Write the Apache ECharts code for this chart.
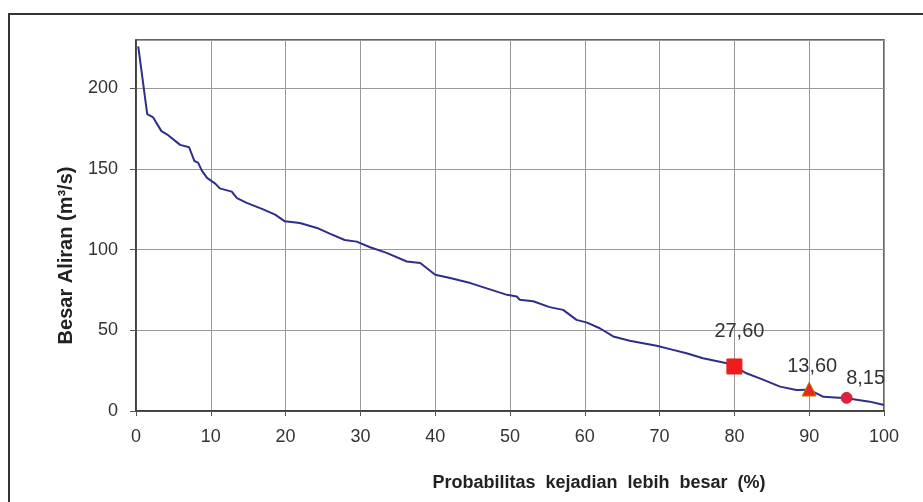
<!DOCTYPE html>
<html>
<head>
<meta charset="utf-8">
<script src="https://cdn.jsdelivr.net/npm/echarts@6/dist/echarts.min.js"></script>
<style>
html, body { margin: 0; padding: 0; background: #fff; }
#chartData { width: 923px; height: 502px; }
</style>
</head>
<body>
<div id="chartData"></div>
<script>
// kurva durasi aliran: probabilitas (%) dan debit (m3/s)
var probPct = [0.3, 1.5, 2.3, 3.4, 4.3, 5.9, 7.1, 7.8, 8.3, 8.8, 9.5, 10.6, 11.2, 12.8, 13.5, 14.8, 17, 18.6, 19.9, 21.9,
    24.2, 25.9, 27.9, 29.5, 31.3, 33.5, 36.2, 38, 40, 42, 44.7, 46.9, 49.6, 50.9, 51.3, 53.1, 55.3, 57.1, 58.9, 60.3,
    62, 63.8, 66, 69.6, 71.8, 73.6, 75.8, 79, 80, 81.6, 83.9, 86.1, 88.3, 90, 91.9, 95, 98.1, 100];
var flow = [226, 184, 182, 173.5, 171, 165, 163.5, 155, 154, 149, 144.5, 141, 138, 136, 132, 129, 125, 121.7, 117.6, 116.6,
    113.5, 110, 106, 105, 101.5, 98, 92.7, 91.7, 84.5, 82.4, 79.3, 76, 72, 71, 69, 68, 64.4, 62.7, 56.5, 54.8,
    51.3, 46.2, 43.5, 40.4, 37.9, 35.8, 32.7, 29.6, 27.6, 23.4, 19.3, 15.1, 13, 13.2, 8.8, 7.9, 5.8, 3.7];

// titik andalan Q80, Q90, Q95
var markP = [80, 90, 95];
var markQ = [27.6, 13.6, 8.15];
var markText = ['27,60', '13,60', '8,15'];

var xTicks = [0, 100, 10];
var yTicks = [0, 230, 50];

var myChart = echarts.init(document.getElementById('chartData'));

var curve = [];
for (var i = 0; i < probPct.length; i++) {
    curve.push([probPct[i], flow[i]]);
}

function markSeries(k, symbol, size, color, border, offset) {
    return {
        type: 'scatter',
        symbol: symbol,
        symbolSize: size,
        z: 5,
        itemStyle: { color: color, borderColor: border, borderWidth: 1, opacity: 1 },
        label: {
            show: true,
            position: 'top',
            offset: offset,
            formatter: markText[k],
            fontSize: 20,
            color: '#333',
            fontFamily: 'Liberation Sans, Arial, sans-serif'
        },
        data: [[markP[k], markQ[k]]]
    };
}

var option = {
    backgroundColor: '#fff',
    animation: false,
    textStyle: { fontFamily: 'Liberation Sans, Arial, sans-serif' },
    graphic: [{
        type: 'rect',
        shape: { x: 9, y: 14, width: 940, height: 520 },
        style: { fill: 'none', stroke: '#333', lineWidth: 2 },
        silent: true
    }],
    grid: { left: 136, right: 39, top: 40, bottom: 91, show: true, borderColor: '#333', borderWidth: 1.5, backgroundColor: 'transparent' },
    xAxis: {
        type: 'value',
        min: xTicks[0], max: xTicks[1], interval: xTicks[2],
        name: 'Probabilitas  kejadian  lebih  besar  (%)',
        nameLocation: 'middle',
        nameGap: 63,
        nameTextStyle: { fontSize: 18, fontWeight: 'bold', color: '#222', padding: [0, 0, 0, 178] },
        axisLine: { lineStyle: { color: '#333', width: 1.5 } },
        axisTick: { show: true, length: 5, lineStyle: { color: '#555' } },
        axisLabel: { fontSize: 18, color: '#333', margin: 17 },
        splitLine: { show: true, lineStyle: { color: '#999', width: 1 } }
    },
    yAxis: {
        type: 'value',
        min: yTicks[0], max: yTicks[1], interval: yTicks[2],
        name: 'Besar Aliran (m³/s)',
        nameLocation: 'middle',
        nameGap: 60,
        nameTextStyle: { fontSize: 20, fontWeight: 'bold', color: '#222', padding: [0, 60, 0, 0] },
        axisLine: { show: true, lineStyle: { color: '#333', width: 1.5 } },
        axisTick: { show: true, length: 6, lineStyle: { color: '#555' } },
        axisLabel: { fontSize: 18, color: '#333', margin: 18, showMaxLabel: false },
        splitLine: { show: true, lineStyle: { color: '#999', width: 1 } }
    },
    series: [{
        type: 'line',
        data: curve,
        showSymbol: false,
        symbol: 'none',
        lineStyle: { color: '#2e2e8a', width: 2 },
        z: 3
    },
        markSeries(0, 'rect', 15, '#ee1c1c', '#ee1c1c', [5, -12]),
        markSeries(1, 'triangle', 14, '#e8261a', '#b8860b', [3, 0]),
        markSeries(2, 'circle', 11, '#e0203a', '#e0203a', [19, 2])
    ]
};

myChart.setOption(option);
</script>
</body>
</html>
